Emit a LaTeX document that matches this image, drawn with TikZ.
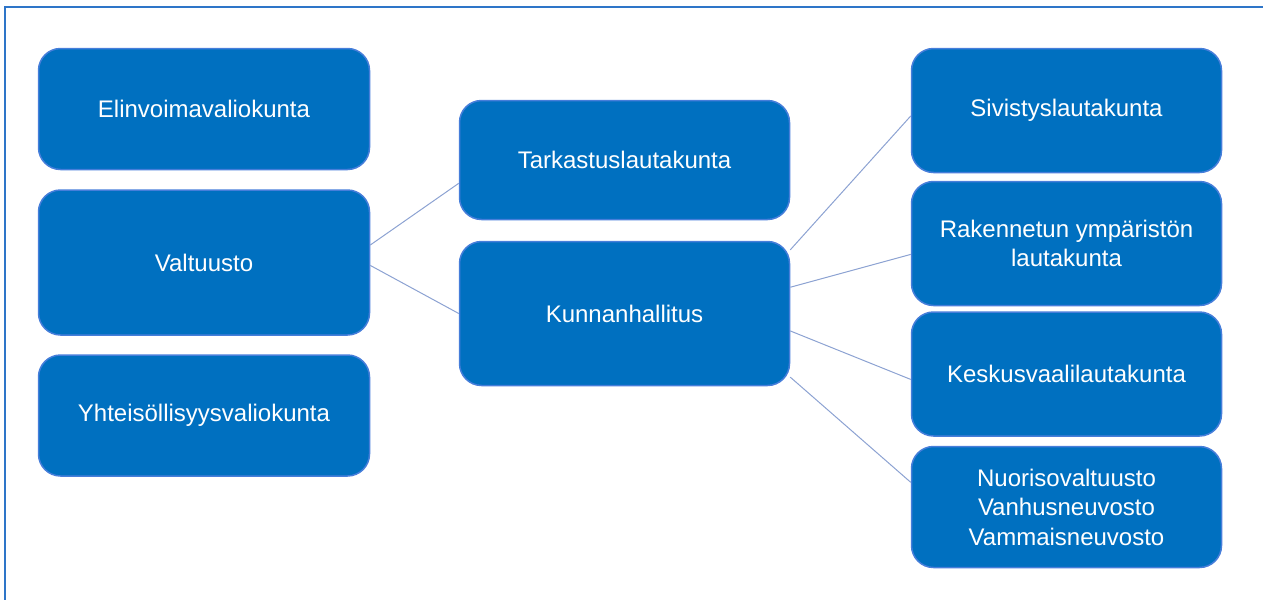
\documentclass[tikz,border=0pt]{standalone}
\usepackage{fontspec}
\setmainfont{Liberation Sans}
\usetikzlibrary{positioning}
\definecolor{organfill}{RGB}{0,112,192}
\definecolor{organedge}{RGB}{70,126,218}
\definecolor{linkblue}{RGB}{140,162,210}
\definecolor{frameblue}{RGB}{46,117,200}
\tikzset{
  organ/.style={
    rectangle,
    rounded corners=22pt,
    fill=organfill,
    draw=organedge, line width=1.5pt,
    text=white,
    font=\fontsize{24}{29.5}\selectfont,
    align=center,
    inner sep=2pt
  },
  link/.style={
    draw=linkblue,
    line width=1pt
  }
}

\begin{document}
\begin{tikzpicture}[x=1pt,y=-1pt]
\useasboundingbox (0,0) rectangle (1263,600);
\draw[frameblue, line width=2pt] (1263,7) -- (5,7) -- (5,600);

% nodes
%% left column
\node[organ, minimum width=331pt, minimum height=121pt] (elin) at (204,109) {Elinvoimavaliokunta};
\node[organ, minimum width=331pt, minimum height=145pt, below = 19pt of elin] (valt) {Valtuusto};
\node[organ, minimum width=331pt, minimum height=121pt, below = 18.5pt of valt] (yhteis) {Yhteisöllisyysvaliokunta};

%% middle column
\node[organ, minimum width=330pt, minimum height=119pt] (tark) at (624.5,160) {Tarkastuslautakunta};
\node[organ, minimum width=330pt, minimum height=144pt, below = 20.5pt of tark] (kunn) {Kunnanhallitus};

%% right column
\node[organ, minimum width=310pt, minimum height=124pt] (sivis) at (1066.5,110.5) {Sivistyslautakunta};
\node[organ, minimum width=310pt, minimum height=124pt, below = 7.5pt of sivis] (rakenn) {Rakennetun ympäristön\\lautakunta};
\node[organ, minimum width=310pt, minimum height=124pt, below = 5pt of rakenn] (keskus) {Keskusvaalilautakunta};
\node[organ, minimum width=310pt, minimum height=121pt, below = 9pt of keskus] (nuoriso) {Nuorisovaltuusto\\Vanhusneuvosto\\Vammaisneuvosto};

% edges
%% valtuusto
\draw [link] (valt.6.5) -- (tark.188);
\draw [link] (valt.-1) -- (kunn.west);

%% kunnanhallitus
\draw [link] (kunn.21) -- (sivis.182);
\draw [link] (kunn.9.4) -- (rakenn.184);
\draw [link] (kunn.-6.7) -- (keskus.182);
\draw [link] (kunn.-21) -- (nuoriso.171);

\end{tikzpicture}
\end{document}
